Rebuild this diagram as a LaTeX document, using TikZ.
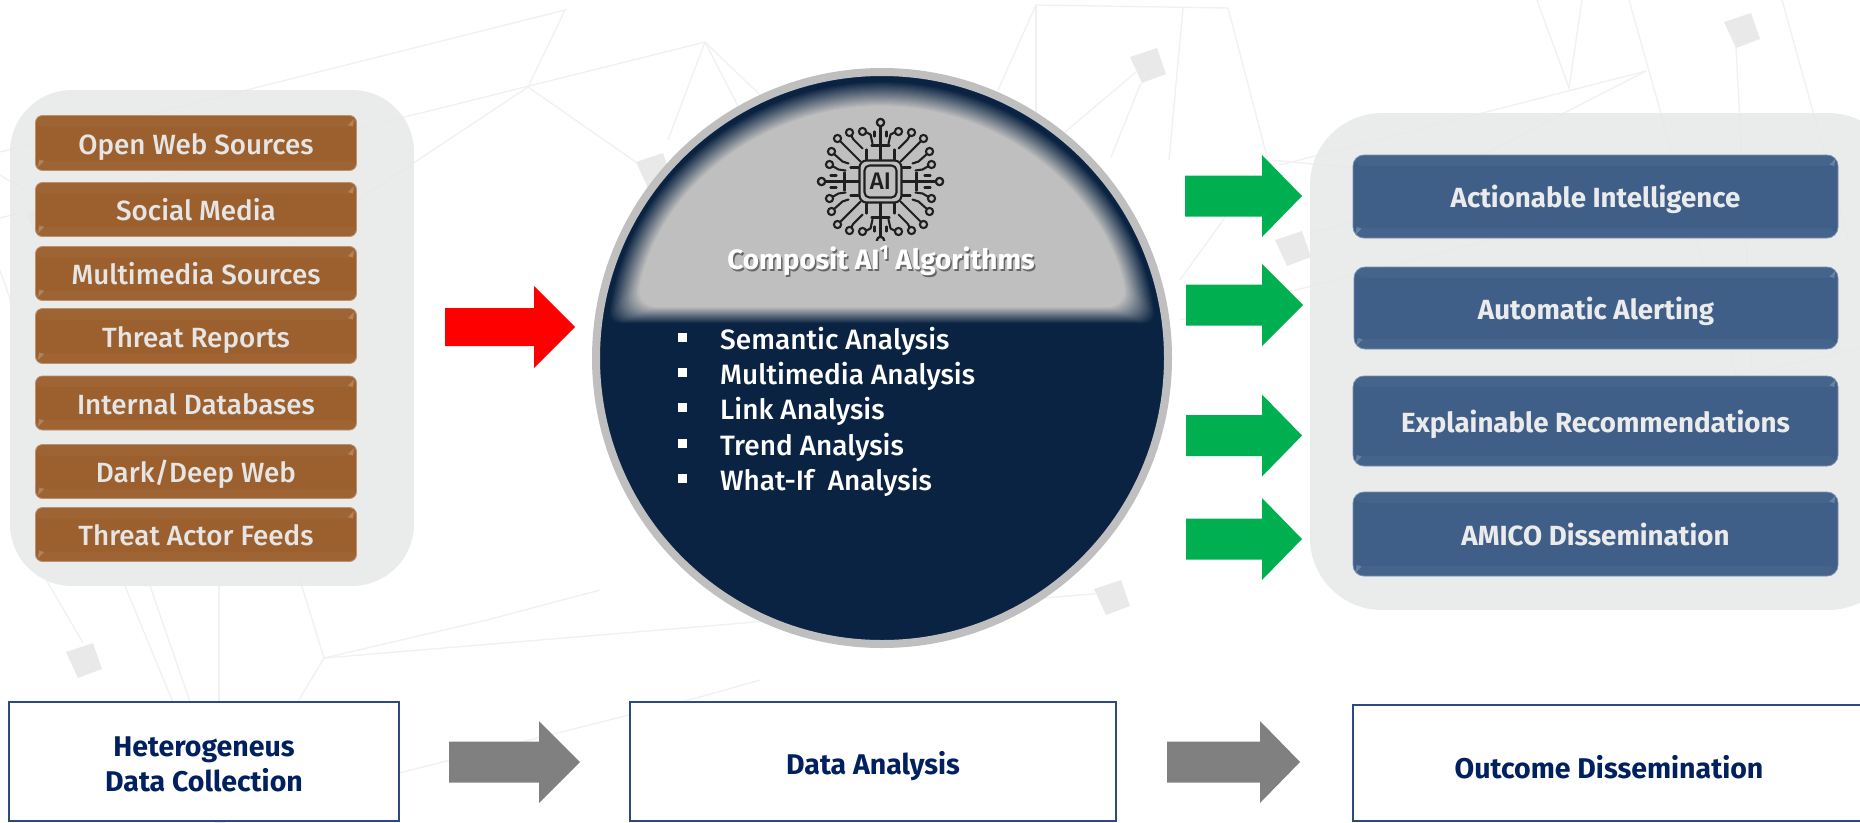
\documentclass[tikz,border=0pt]{standalone}
\usepackage{fontspec}
\setmainfont{Fira Sans}[UprightFont={* Medium},BoldFont={* Bold}]
\definecolor{navy}{HTML}{0A2342}
\definecolor{ring}{HTML}{BFBFBF}
\definecolor{capgrey}{HTML}{BFBFBF}
\definecolor{brownbox}{HTML}{9C602E}
\definecolor{bluebox}{HTML}{3F5F88}
\definecolor{panelgrey}{HTML}{E7E9E8}
\definecolor{bgline}{HTML}{F1F1F1}
\definecolor{bgquad}{HTML}{E9E9E9}
\definecolor{labelnavy}{HTML}{002060}
\definecolor{frameblue}{HTML}{2A4A80}
\definecolor{greenarrow}{HTML}{00B050}
\tikzset{
  panel/.style={fill=panelgrey,fill opacity=.88,rounded corners=62pt},
  bevel/.style={path picture={
    \fill[white,opacity=.03] (path picture bounding box.north west) rectangle ([yshift=-11pt]path picture bounding box.north east);
    \fill[white,opacity=.03] (path picture bounding box.south west) rectangle ([yshift=10pt]path picture bounding box.south east);
  }},
  srcbox/.style={bevel,draw=brownbox!70!white,line width=.8pt,fill=brownbox,rounded corners=7pt,text=white!90!black,font=\fontsize{27.8}{28}\selectfont,minimum width=321pt,inner sep=0pt,anchor=center,text height=24pt,text depth=2pt},
  outbox/.style={bevel,draw=bluebox!70!white,line width=.8pt,fill=bluebox,rounded corners=11pt,text=white!92!black,font=\fontsize{27.7}{29}\selectfont\bfseries,minimum width=485pt,inner sep=0pt,anchor=center,text height=24pt,text depth=2pt},
  stagebox/.style={draw=frameblue,line width=1.6pt,fill=white},
  stagetext/.style={text=labelnavy,font=\fontsize{28.5}{35}\selectfont\bfseries,align=center},
  bullettext/.style={text=white,font=\fontsize{28}{28}\selectfont,anchor=base west,inner sep=0pt},
  bulletmark/.style={fill=white,minimum size=9pt,inner sep=0pt},
  bg/.style={draw=bgline,line width=1.4pt},
  trace/.style={draw=black!88,line width=2.1pt,line cap=round,line join=round},
  ball/.style={draw=black!88,line width=2.1pt,fill=capgrey},
  glintb/.style={fill=white,fill opacity=.2},
}
\newcommand{\blockarrow}[7]{\fill[#7] (#1,#4-#5) -- (#3,#4-#5) -- (#3,#4-#6) -- (#2,#4) -- (#3,#4+#6) -- (#3,#4+#5) -- (#1,#4+#5) -- cycle;}
\newcommand{\bgquadat}[2]{\fill[bgquad,shift={(#1,#2)}] (-18,-8) -- (9,-17) -- (18,9) -- (-6,18) -- cycle;}
\newcommand{\glints}[1]{%
  \fill[glintb] ([shift={(-3,4)}]#1.north east) -- ++(-6,6) -- ++(5,1.5) -- cycle;
  \fill[glintb] ([shift={(3,-4)}]#1.south west) -- ++(6,-6) -- ++(-5,-1.5) -- cycle;}
\newcommand{\titletext}{Composit AI\raisebox{.36em}{\fontsize{20}{20}\selectfont 1} Algorithms}
\newcommand{\iconquadrant}{%
  \draw[trace] (-20,-20) -- (-41,-41);
  \draw[ball] (-43,-43) circle (3.6);
  \draw[trace] (-32,-18) -- (-38,-20) -- (-47,-28);
  \draw[ball] (-49,-30) circle (3.6);
  \draw[trace] (-35,-11) -- (-42,-12) -- (-49,-16);
  \draw[ball] (-51,-17) circle (3.6);
  \draw[trace] (-18,-33) -- (-27,-42) -- (-30,-47);
  \draw[ball] (-31,-49) circle (3.6);
  \draw[trace] (-8,-38) -- (-10,-47) -- (-16,-50);
  \draw[ball] (-18,-50) circle (3.6);
  \draw[trace] (0,-22) -- (0,-56);
  \draw[ball] (0,-59) circle (3.6);
  \draw[trace] (-9,-36) -- (0,-36);
  \draw[trace] (-14,-32) -- (-14,-22);
  \draw[trace] (-6,-50) -- (-6,-45);
  \draw[trace] (-22,0) -- (-56,0);
  \draw[ball] (-59,0) circle (3.6);
  \draw[trace] (-36,-9) -- (-36,0);
  \draw[trace] (-30,-14) -- (-22,-14);
  \draw[trace] (-50,-6) -- (-44,-6);
}
\begin{document}
\begin{tikzpicture}[x=1pt,y=-1pt]
\useasboundingbox (0,0) rectangle (1860,822);
\clip (0,0) rectangle (1860,822);
% background network
\draw[bg] (0,152) -- (565,10) -- (528,87);
\draw[bg] (705,42) -- (0,218);
\draw[bg] (528,87) -- (290,245);
\draw[bg] (528,87) -- (640,165);
\draw[bg] (705,42) -- (668,140);
\draw[bg] (705,42) -- (740,110);
\draw[bg] (705,42) -- (760,95);
\draw[bg] (0,175) -- (33,195);
\draw[bg] (0,270) -- (12,305);
\draw[bg] (47,581) -- (83,643);
\draw[bg] (125,586) -- (212,797);
\draw[bg] (150,586) -- (223,797);
\draw[bg] (219,586) -- (219,797);
\draw[bg] (300,580) -- (324,658) -- (487,620) -- (600,590);
\draw[bg] (324,658) -- (1103,593);
\draw[bg] (324,658) -- (241,797);
\draw[bg] (241,813) -- (700,697) -- (760,680);
\draw[bg] (998,90) -- (1036,5) -- (1228,8) -- (1267,157);
\draw[bg] (1036,5) -- (1036,120);
\draw[bg] (1183,8) -- (1169,160);
\draw[bg] (1136,72) -- (1065,132);
\draw[bg] (1141,83) -- (1111,157);
\draw[bg] (1646,71) -- (1280,165);
\draw[bg] (1646,71) -- (1482,155);
\draw[bg] (1537,0) -- (1569,88) -- (1582,0);
\draw[bg] (1629,0) -- (1696,238) -- (1737,377);
\draw[bg] (1782,0) -- (1848,238);
\draw[bg] (1736,47) -- (1746,238) -- (1752,373) -- (1860,348);
\draw[bg] (1271,160) -- (1353,168);
\draw[bg] (1310,233) -- (1353,222);
\draw[bg] (1180,280) -- (1226,216);
\draw[bg] (1180,320) -- (1497,238);
\bgquadat{654}{170}
\bgquadat{1148}{65}
\bgquadat{1742}{30}
\bgquadat{1293}{248}
\bgquadat{1112}{597}
\bgquadat{84}{660}
\bgquadat{222}{808}
\bgquadat{44}{222}
% panels
\fill[panel] (10,90) rectangle (414,586);
\fill[panel,rounded corners=72pt] (1310,113) rectangle (1900,610);
% source boxes
\node[srcbox,minimum height=55pt] (s1) at (196,143) {Open Web Sources};
\node[srcbox,minimum height=54pt] (s2) at (196,209.5) {Social Media};
\node[srcbox,minimum height=54pt] (s3) at (196,273.5) {Multimedia Sources};
\node[srcbox,minimum height=55pt] (s4) at (196,336) {Threat Reports};
\node[srcbox,minimum height=54pt] (s5) at (196,403) {Internal Databases};
\node[srcbox,minimum height=54pt] (s6) at (196,471.5) {Dark/Deep Web};
\node[srcbox,minimum height=54pt] (s7) at (196,534.5) {Threat Actor Feeds};
\foreach \n in {s1,s2,s3,s4,s5,s6,s7}{\glints{\n}}
% central circle
\node[circle,draw=ring,line width=8pt,fill=navy,minimum size=572pt,inner sep=0pt] (core) at (882,358) {};
\begin{scope}
\clip (882,358) circle (281);
\foreach \i in {0,...,24}{
  \pgfmathsetmacro{\R}{277-1.05*\i}
  \pgfmathsetmacro{\yy}{324-0.7*\i}
  \pgfmathsetmacro{\ang}{asin((358-\yy)/\R)}
  \pgfmathsetmacro{\mixv}{100*\i/24}
  \pgfmathsetmacro{\rc}{12+0.4*\i}
  \fill[capgrey!\mixv!navy,rounded corners=\rc pt] (882,358) ++(180+\ang:\R) arc[start angle=180+\ang,end angle=360-\ang,radius=\R] -- cycle;
}
\end{scope}
% AI icon
\begin{scope}[shift={(880.5,181.5)}]
  \clip (-70,-70) rectangle (70,58.5);
  \begin{scope}\iconquadrant\end{scope}
  \begin{scope}[xscale=-1]\iconquadrant\end{scope}
  \begin{scope}[yscale=-1]\iconquadrant\end{scope}
  \begin{scope}[xscale=-1,yscale=-1]\iconquadrant\end{scope}
  \draw[trace,fill=capgrey,rounded corners=7pt] (-21,-21) rectangle (21,21);
  \draw[trace,rounded corners=5pt] (-16,-16) rectangle (16,16);
  \node[inner sep=0pt,text=black!88,font=\fontsize{24}{24}\selectfont] (ailabel) at (0,0) {AI};
\end{scope}
\node[text=black!60,inner sep=0pt,font=\fontsize{28}{28}\selectfont\bfseries] (capshadow) at (882.5,262.5) {\titletext};
\node[text=white,inner sep=0pt,font=\fontsize{28}{28}\selectfont\bfseries] (captitle) at (881,261) {\titletext};
% bullets
\foreach \y/\t/\m in {349/Semantic Analysis/b1,384/Multimedia Analysis/b2,419/Link Analysis/b3,455/Trend Analysis/b4,490/What-If\ \ Analysis/b5}{
  \node[bulletmark] (\m) at (682.5,\y-12) {};
  \node[bullettext] (\m t) at (720,\y) {\t};
}
% arrows
\blockarrow{445}{575}{534}{327}{19}{41}{red}
\blockarrow{1185}{1302}{1262}{196}{20.5}{41}{greenarrow}
\blockarrow{1186}{1303}{1262}{305}{20.5}{41}{greenarrow}
\blockarrow{1186}{1302}{1262}{435.5}{20.5}{41}{greenarrow}
\blockarrow{1186}{1302}{1262}{539}{20.5}{41}{greenarrow}
\blockarrow{449}{580}{539}{762}{20.5}{41}{black!50}
\blockarrow{1167}{1300}{1260}{762}{20.5}{41}{black!50}
% outcome boxes
\node[outbox,minimum height=83pt] (o1) at (1595.5,196.5) {Actionable Intelligence};
\node[outbox,minimum height=82pt,minimum width=484pt] (o2) at (1596,308) {Automatic Alerting};
\node[outbox,minimum height=90pt] (o3) at (1595.5,421) {Explainable Recommendations};
\node[outbox,minimum height=84pt] (o4) at (1595.5,534) {AMICO Dissemination};
\foreach \n in {o1,o2,o3,o4}{\glints{\n}}
% stage boxes
\draw[stagebox] (9,702) rectangle (399,821);
\draw[stagebox] (630,702) rectangle (1116,821);
\draw[stagebox] (1353,705) rectangle (1880,821);
\node[stagetext] (st1) at (204,764) {Heterogeneus\\Data Collection};
\node[stagetext] (st2) at (873,766) {Data Analysis};
\node[stagetext] (st3) at (1609,767) {Outcome Dissemination};
\end{tikzpicture}
\end{document}
